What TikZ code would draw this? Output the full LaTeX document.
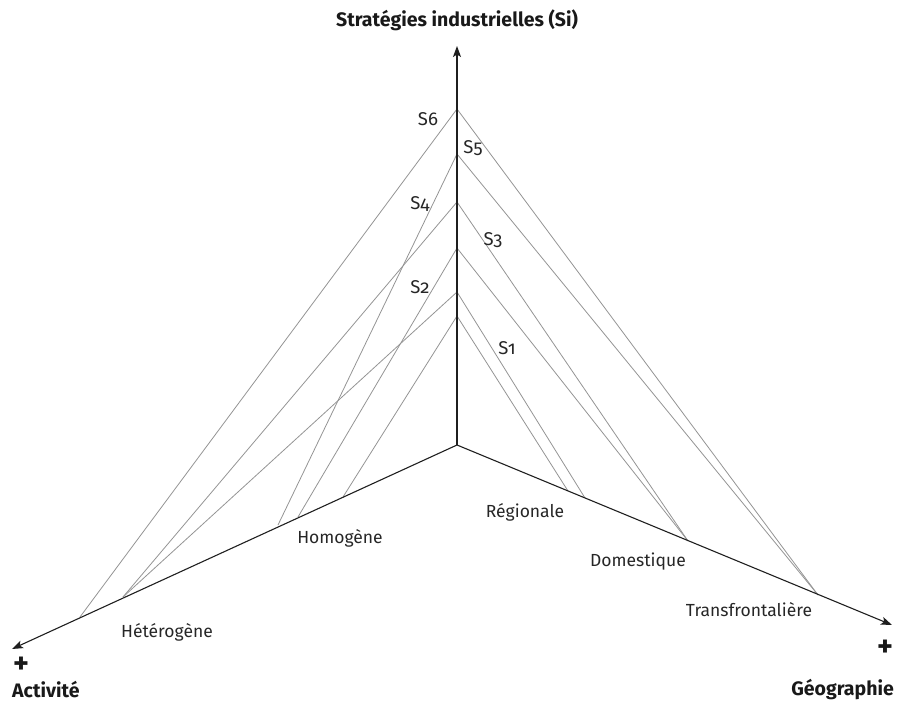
\documentclass[tikz,border=0pt]{standalone}
\usepackage{fontspec}
\setmainfont{Fira Sans}[Numbers=OldStyle]
\usetikzlibrary{arrows.meta}
\begin{document}
\begin{tikzpicture}[x=1pt,y=-1pt,
  axis/.style={draw=black!88, line width=1.1pt, -{Stealth[length=11pt,width=8pt,inset=2.5pt]}},
  sline/.style={draw=black!42, line width=0.8pt},
  lab/.style={font=\fontsize{17.5}{20}\selectfont, text=black!85, inner sep=0pt},
  slab/.style={font=\fontsize{18.5}{20}\selectfont, text=black!85, inner sep=0pt},
  blab/.style={font=\fontsize{19.5}{22}\selectfont\bfseries, text=black!90, inner sep=0pt},
  plus/.style={font=\fontsize{30}{30}\selectfont\bfseries, text=black!90, inner sep=0pt},
]
\useasboundingbox (0,0) rectangle (906,703);
% axes
\coordinate (O) at (457,445);
\coordinate (T) at (457,46);
\coordinate (L) at (12,649);
\coordinate (R) at (892,625);
% peaks
\coordinate (p6) at (457,109);
\coordinate (p5) at (457,154);
\coordinate (p4) at (457,202);
\coordinate (p3) at (457,248);
\coordinate (p2) at (457,292);
\coordinate (p1) at (457,316);
% left axis feet
\coordinate (l6) at (80,617);
\coordinate (l42) at (123,597);
\coordinate (l5) at (278,525);
\coordinate (l3) at (298,517);
\coordinate (l1) at (343,497);
% right axis feet
\coordinate (r1) at (568,491);
\coordinate (r2) at (585,498);
\coordinate (r34) at (688,541);
\coordinate (r56) at (818,595);
% strategy lines
\draw[sline] (l6) -- (p6) -- (r56);
\draw[sline] (l5) -- (p5) -- (r56);
\draw[sline] (l42) -- (p4) -- (r34);
\draw[sline] (l3) -- (p3) -- (r34);
\draw[sline] (l42) -- (p2) -- (r2);
\draw[sline] (l1) -- (p1) -- (r1);
% axes
\draw[axis] (O) -- (T);
\draw[axis] (O) -- (L);
\draw[axis] (O) -- (R);
% strategy labels
\node[slab] (s6) at (428,119) {S6};
\node[slab] (s5) at (473,148) {S5};
\node[slab] (s4) at (420,204) {S4};
\node[slab] (s3) at (493,240) {S3};
\node[slab] (s2) at (420,287) {S2};
\node[slab] (s1) at (507,348) {S1};
% axis labels
\node[blab] (title) at (457,20) {Stratégies industrielles (Si)};
\node[lab] (het) at (167,632) {Hétérogène};
\node[lab] (hom) at (340,538) {Homogène};
\node[lab] (reg) at (525,512) {Régionale};
\node[lab] (dom) at (638,562) {Domestique};
\node[lab] (tra) at (749,610) {Transfrontalière};
\node[plus] (plusL) at (21,665) {+};
\node[blab, anchor=base west] (act) at (12,697) {Activité};
\node[plus] (plusR) at (885,648) {+};
\node[blab, anchor=base east] (geo) at (894,695) {Géographie};
\end{tikzpicture}
\end{document}
